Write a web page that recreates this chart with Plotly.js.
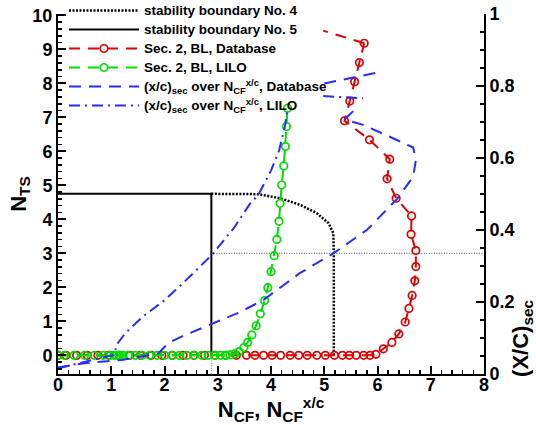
<!DOCTYPE html>
<html>
<head>
<meta charset="utf-8">
<script src="https://cdn.plot.ly/plotly-3.0.1.min.js"></script>
<style>html,body{margin:0;padding:0;background:#fff}#chart{width:536px;height:425px}</style>
</head>
<body>
<div id="chart"></div>
<script>
// ---- data ----
const boundary4X = [2.88, 3.3, 3.76, 4.17, 4.54, 4.86, 5.08, 5.17, 5.18, 5.18];
const boundary4Y = [4.75, 4.75, 4.74, 4.62, 4.43, 4.18, 3.89, 3.59, 3.0, 0];

const boundary5X = [0, 2.88, 2.88];
const boundary5Y = [4.75, 4.75, 0];

const guideHX = [2.88, 8];
const guideHY = [3, 3];
const guideVX = [2.88, 2.88];
const guideVY = [0, -0.55];

const dbX = [0, 0.15, 0.35, 0.55, 0.75, 0.95, 1.15, 1.35, 1.55, 1.75, 1.95, 2.15, 2.35, 2.55, 2.75, 2.95, 3.15, 3.35,
  3.54, 3.70, 3.86, 4.02, 4.18, 4.36, 4.52, 4.68, 4.86, 5.02, 5.19, 5.34, 5.47, 5.60, 5.74, 5.86,
  5.97, 6.11, 6.27, 6.40, 6.52, 6.59, 6.65, 6.70, 6.72, 6.72, 6.63, 6.64, 6.35, 6.18, 6.23, 5.85, 5.38, 5.48, 5.57, 5.66, 5.75];
const dbY = [0, 0, 0, 0, 0, 0, 0, 0, 0, 0, 0, 0, 0, 0, 0, 0, 0, 0,
  0, 0, 0, 0, 0, 0, 0, 0, 0, 0, 0, 0, 0, 0, 0, 0,
  0.03, 0.19, 0.38, 0.63, 0.98, 1.38, 1.76, 2.19, 2.61, 3.08, 3.56, 4.10, 4.62, 5.19, 5.77, 6.34, 6.90, 7.48, 8.05, 8.61, 9.18];
const dbTailX = [5.75, 4.98];
const dbTailY = [9.18, 9.55];

const liloX = [0, 0.12, 0.3, 0.5, 0.68, 0.85, 0.98, 1.05, 1.1, 1.15, 1.22, 1.32, 1.45, 1.58, 1.72, 1.86, 2.0, 2.14, 2.28, 2.42, 2.56, 2.7, 2.82, 2.94, 3.05, 3.15,
  3.23, 3.32, 3.40, 3.49, 3.56, 3.64, 3.72, 3.80, 3.88, 3.94, 4.0, 4.06, 4.11, 4.15, 4.17, 4.20, 4.24, 4.27, 4.29, 4.31];
const liloY = [0, 0, 0, 0, 0, 0, 0, 0, 0, 0, 0, 0, 0, 0, 0, 0, 0, 0, 0, 0, 0, 0, 0, 0, 0, 0,
  0.01, 0.04, 0.11, 0.23, 0.38, 0.6, 0.87, 1.22, 1.61, 1.99, 2.46, 2.93, 3.41, 3.94, 4.47, 5.01, 5.57, 6.14, 6.73, 7.27];

const secDbX = [0, 0.5, 1.2, 1.88, 2.0, 2.1, 2.32, 2.70, 3.42, 3.86, 4.54, 5.17, 5.80, 6.36, 6.67, 6.72, 6.67, 6.23, 5.73, 5.38, 5.64, null, 5.0, 6.02];
const secDbY = [0.018, 0.03, 0.039, 0.057, 0.075, 0.088, 0.104, 0.127, 0.172, 0.206, 0.28, 0.335, 0.40, 0.485, 0.548, 0.594, 0.629, 0.659, 0.692, 0.707, 0.744, null, 0.807, 0.838];

const secLiloX = [0, 0.5, 1.04, 1.08, 1.12, 1.26, 1.6, 2.01, 2.4, 2.89, 3.3, 3.61, 3.76, 4.0, 4.15, 4.26, 4.31, null, 4.98, 5.73];
const secLiloY = [0.016, 0.034, 0.053, 0.068, 0.085, 0.113, 0.16, 0.206, 0.26, 0.331, 0.405, 0.474, 0.497, 0.565, 0.62, 0.687, 0.738, null, 0.772, 0.766];

const xTicks = [0, 1, 2, 3, 4, 5, 6, 7, 8];
const yTicks = [0, 1, 2, 3, 4, 5, 6, 7, 8, 9, 10];
const y2Ticks = [0, 0.2, 0.4, 0.6, 0.8, 1];
const y2TickText = ['0', '0.2', '0.4', '0.6', '0.8', '1'];

const names = [
  'stability boundary No. 4',
  'stability boundary No. 5',
  'Sec. 2, BL, Database',
  'Sec. 2, BL, LILO',
  '(x/c)<sub>sec</sub> over N<sub>CF</sub><sup>x/c</sup>, Database',
  '(x/c)<sub>sec</sub> over N<sub>CF</sub><sup>x/c</sup>, LILO'
];
const legendLabel = s => '<span style="font-size:13.5px">' + s + '</span>';

// ---- styles ----
const FONT = 'Liberation Sans, Arial, Helvetica, sans-serif';
const RED = '#e00000', GREEN = '#00dd00', BLUE = '#2b2bff';
const mk = c => ({symbol: 'circle-open', size: 7.5, color: c, line: {width: 1.7, color: c}});

const traces = [
  {x: boundary4X, y: boundary4Y, name: legendLabel(names[0]), mode: 'lines', line: {color: '#000', width: 2.5, dash: '2px,1.5px'}},
  {x: boundary5X, y: boundary5Y, name: legendLabel(names[1]), mode: 'lines', line: {color: '#000', width: 2}},
  {x: guideHX, y: guideHY, mode: 'lines', showlegend: false, hoverinfo: 'skip', line: {color: '#555', width: 1, dash: '1px,1.5px'}},
  {x: guideVX, y: guideVY, mode: 'lines', showlegend: false, hoverinfo: 'skip', line: {color: '#888', width: 1, dash: '1px,1.5px'}},
  {x: dbTailX, y: dbTailY, mode: 'lines', showlegend: false, hoverinfo: 'skip', line: {color: RED, width: 2, dash: '11px,8px'}},
  {x: dbX, y: dbY, name: legendLabel(names[2]), mode: 'lines+markers', line: {color: RED, width: 2, dash: '11px,8px'}, marker: mk(RED)},
  {x: liloX, y: liloY, name: legendLabel(names[3]), mode: 'lines+markers', line: {color: GREEN, width: 2, dash: '11px,8px'}, marker: mk(GREEN)},
  {x: secDbX, y: secDbY, name: legendLabel(names[4]), yaxis: 'y2', mode: 'lines', connectgaps: false, line: {color: BLUE, width: 2, dash: '12px,8px'}},
  {x: secLiloX, y: secLiloY, name: legendLabel(names[5]), yaxis: 'y2', mode: 'lines', connectgaps: false, line: {color: BLUE, width: 2, dash: '11px,5px,2px,5px'}}
];

const tickFont = {family: FONT, size: 18, color: '#000', weight: 'bold'};
const titleFont = {family: FONT, size: 22, color: '#000', weight: 'bold'};
const axisCommon = {
  showline: true, linewidth: 2, linecolor: '#000', mirror: false,
  ticks: 'inside', ticklen: 8, tickwidth: 2, tickcolor: '#000',
  showgrid: false, zeroline: false, tickfont: tickFont
};

const layout = {
  width: 536, height: 425,
  margin: {l: 58, r: 52, t: 14, b: 51, pad: 0, autoexpand: false},
  paper_bgcolor: '#fff', plot_bgcolor: 'rgba(0,0,0,0)',
  font: {family: FONT, color: '#000'},
  showlegend: true,
  legend: {
    x: 0.014, y: 1.05, xanchor: 'left', yanchor: 'top',
    bgcolor: 'rgba(0,0,0,0)', borderwidth: 0,
    font: {family: FONT, size: 12.3, color: '#000', weight: 'bold'},
    itemwidth: 70, tracegroupgap: 0
  },
  xaxis: Object.assign({}, axisCommon, {
    range: [0, 8], tickvals: xTicks, ticktext: xTicks.map(String),
    ticklabelstandoff: -7,
    minor: {dtick: 0.2, ticks: 'inside', ticklen: 4, tickwidth: 1.5, tickcolor: '#000'},
    title: {text: 'N<sub>CF</sub>, N<sub>CF</sub><sup>x/c</sup>', font: titleFont, standoff: 8}
  }),
  yaxis: Object.assign({}, axisCommon, {
    range: [-0.55, 10.04], tickvals: yTicks, ticktext: yTicks.map(String),
    minor: {dtick: 0.2, tick0: 0, ticks: 'inside', ticklen: 4, tickwidth: 1.5, tickcolor: '#000'},
    title: {text: 'N<sub>TS</sub>', font: titleFont, standoff: 0}
  }),
  yaxis2: Object.assign({}, axisCommon, {
    overlaying: 'y', side: 'right', range: [0, 1],
    tickvals: y2Ticks, ticktext: y2TickText,
    minor: {dtick: 0.05, ticks: 'inside', ticklen: 4, tickwidth: 1.5, tickcolor: '#000'}
  }),
  annotations: [{
    xref: 'paper', yref: 'paper', x: 1.089, y: 0.1, xanchor: 'center', yanchor: 'middle',
    text: '(X/C)<sub>sec</sub>', textangle: -90, showarrow: false,
    font: titleFont
  }]
};

Plotly.newPlot('chart', traces, layout, {displayModeBar: false, staticPlot: true});
</script>
</body>
</html>
